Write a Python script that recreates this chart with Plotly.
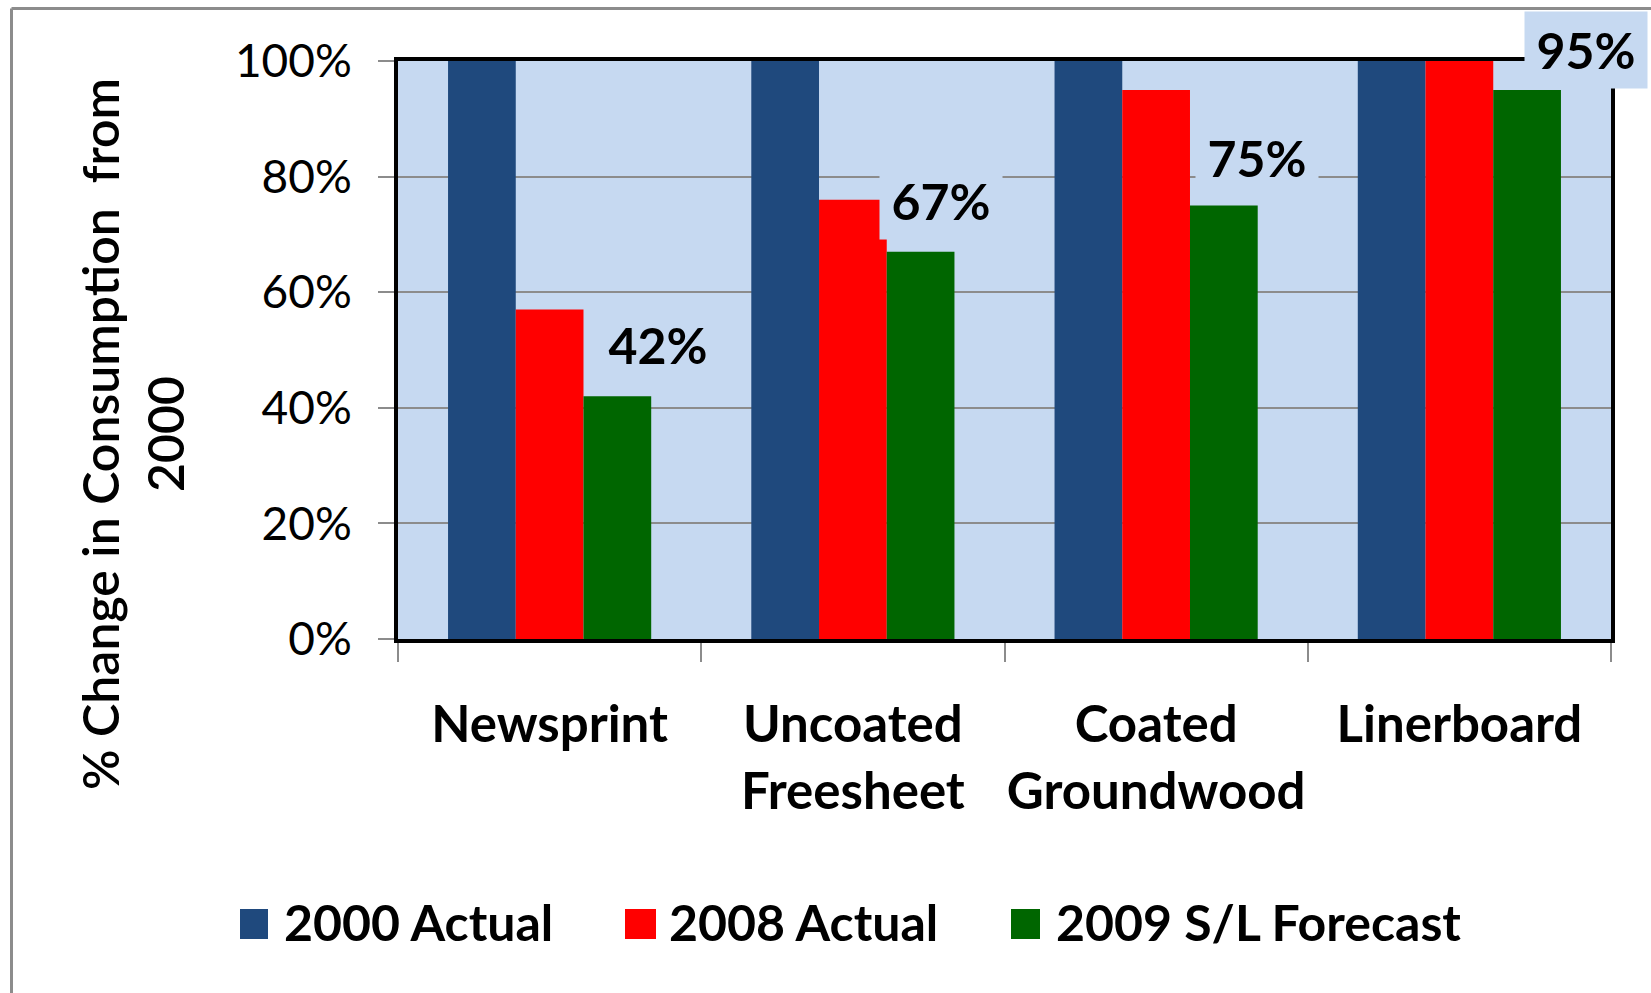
import plotly.graph_objects as go

# ---- data ----
categories = ["Newsprint", "Uncoated<br>Freesheet", "Coated<br>Groundwood", "Linerboard"]
series_names = ["2000 Actual", "2008 Actual", "2009 S/L Forecast"]
actual_2000 = [100, 100, 100, 100]
actual_2008 = [57, 76, 95, 100]
forecast_2009 = [42, 67, 75, 95]
y_tick_values = [0, 20, 40, 60, 80, 100]
y_tick_text = ["0%", "20%", "40%", "60%", "80%", "100%"]
y_title = "% Change in Consumption\u00a0 from<br>2000"

# ---- style ----
colors = ["#1F497D", "#FF0000", "#006600"]
plot_bg = "#C6D9F1"
FONT = "Lato"
W, H = 1651, 993
L, R, T, B = 398, 40, 61, 354
PW = W - L - R
PH = H - T - B


def px(x):
    return (x - L) / PW


def py(y):
    return (H - B - y) / PH


fig = go.Figure()
for name, vals, col in zip(series_names, [actual_2000, actual_2008, forecast_2009], colors):
    fig.add_trace(go.Bar(x=categories, y=vals, name=name,
                         marker=dict(color=col, line=dict(width=0)),
                         showlegend=False))

# data labels over forecast bars (boxes in plot background colour)
label_xshift = [108, 88, 101, 127]
label_yshift = [51, 51, 48, 40]
annotations = []
for cat, v, xs, ys in zip(categories, forecast_2009, label_xshift, label_yshift):
    annotations.append(dict(
        x=cat, y=v, xref="x", yref="y", text=f"{v}%", showarrow=False,
        xshift=xs, yshift=ys, xanchor="center", yanchor="middle",
        width=122, height=76, borderpad=0, bgcolor=plot_bg,
        font=dict(family=FONT, size=50, color="black", weight="bold")))

# rotated y-axis title
annotations.append(dict(
    x=px(132), y=py(434), xref="paper", yref="paper", text=y_title,
    showarrow=False, textangle=-90, xanchor="center", yanchor="middle",
    font=dict(family=FONT, size=50, color="black", weight=600)))

# manual legend
legend_items = [(240, 268, 282), (625, 656, 667), (1011, 1040, 1054)]
shapes = []
for (x0, x1, tx), name, col in zip(legend_items, series_names, colors):
    shapes.append(dict(type="rect", xref="paper", yref="paper",
                       x0=px(x0), x1=px(x1), y0=py(939), y1=py(909),
                       fillcolor=col, line=dict(width=0)))
    annotations.append(dict(
        x=px(tx), y=py(922), xref="paper", yref="paper", text=name,
        showarrow=False, xanchor="left", yanchor="middle",
        font=dict(family=FONT, size=50, color="black", weight="bold")))

# outer chart border (top and left visible)
shapes.append(dict(type="line", xref="paper", yref="paper",
                   x0=px(11.5), x1=px(1660), y0=py(8.5), y1=py(8.5),
                   line=dict(color="#8C8C8C", width=3)))
shapes.append(dict(type="line", xref="paper", yref="paper",
                   x0=px(11.5), x1=px(11.5), y0=py(8.5), y1=py(1000),
                   line=dict(color="#8C8C8C", width=3)))

fig.update_layout(
    width=W, height=H,
    margin=dict(l=L, r=R, t=T, b=B, pad=0, autoexpand=False),
    paper_bgcolor="white", plot_bgcolor=plot_bg,
    barmode="group", bargap=0.33, bargroupgap=0,
    font=dict(family=FONT, color="black"),
    annotations=annotations, shapes=shapes,
)
fig.update_xaxes(
    type="category", range=[-0.5, len(categories) - 0.5], autorange=False,
    automargin=False, tickangle=0,
    showline=True, mirror=True, linecolor="black", linewidth=4,
    ticks="outside", tickson="boundaries", ticklen=19, tickwidth=2, tickcolor="#8C8C8C",
    tickfont=dict(family=FONT, size=51, color="black", weight="bold"),
    ticklabelstandoff=38, showgrid=False,
)
fig.update_yaxes(
    range=[0, 100], autorange=False, tickmode="array", automargin=False,
    tickvals=y_tick_values, ticktext=y_tick_text,
    showline=True, mirror=True, linecolor="black", linewidth=4,
    ticks="outside", ticklen=16, tickwidth=2, tickcolor="#8C8C8C",
    tickfont=dict(family=FONT, size=46, color="black"),
    ticklabelstandoff=17,
    showgrid=True, gridcolor="#8C8C8C", gridwidth=2, zeroline=False,
)

fig.write_html("out.html")
